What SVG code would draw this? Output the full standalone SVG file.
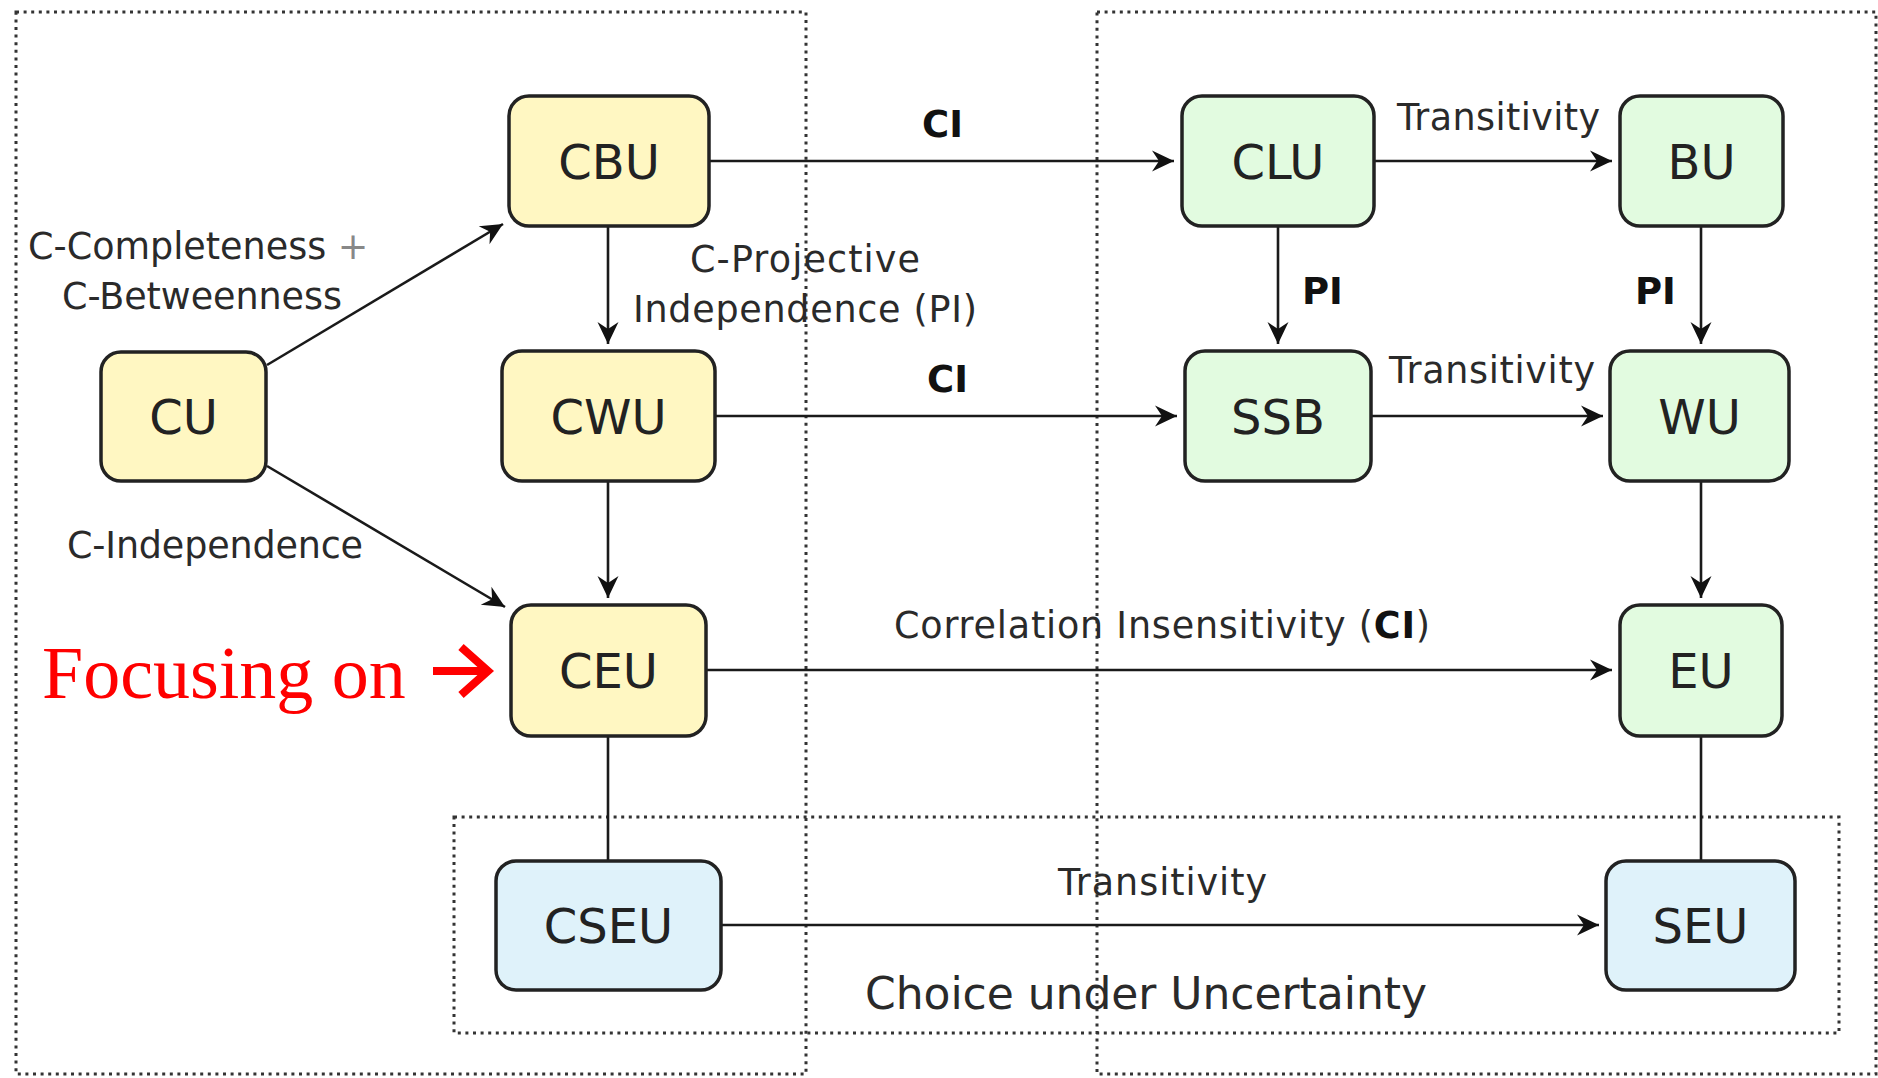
<svg xmlns="http://www.w3.org/2000/svg" width="1878" height="1078" viewBox="0 0 1878 1078">
<defs>
<style>
.box{fill:none;stroke:#333;stroke-width:3;stroke-dasharray:3 4.6}
.y{fill:#fff7c2}.g{fill:#e2fbe0}.b{fill:#dff2fa}
.n rect{stroke:#222;stroke-width:3.5}
.n text{font-family:"DejaVu Sans",sans-serif;font-size:48px;fill:#222;text-anchor:middle}
.lab{font-family:"DejaVu Sans",sans-serif;font-size:36.5px;fill:#2a2a2a}
.bold{font-weight:bold;font-size:37px;fill:#111}
.e{stroke:#1a1a1a;stroke-width:2.6;fill:none}
.a{marker-end:url(#arr)}
</style>
<marker id="arr" markerUnits="userSpaceOnUse" markerWidth="28" markerHeight="26" viewBox="-24 -13 28 26" refX="0" refY="0" orient="auto">
<path d="M0,0 L-22,-10.5 L-15,0 L-22,10.5 Z" fill="#111"/>
</marker>
</defs>
<rect width="1878" height="1078" fill="#fff"/>
<g id="frames">
<rect class="box" x="16" y="12" width="790" height="1062"/>
<rect class="box" x="1097" y="12" width="779" height="1062"/>
<rect class="box" x="454" y="817" width="1385" height="216"/>
</g>
<g id="connectors">
<line class="e a" x1="709" y1="161" x2="1174" y2="161"/>
<line class="e a" x1="1374" y1="161" x2="1612" y2="161"/>
<line class="e a" x1="608" y1="226" x2="608" y2="344"/>
<line class="e a" x1="1278" y1="226" x2="1278" y2="344"/>
<line class="e a" x1="1701" y1="226" x2="1701" y2="344"/>
<line class="e a" x1="715" y1="416" x2="1177" y2="416"/>
<line class="e a" x1="1371" y1="416" x2="1603" y2="416"/>
<line class="e a" x1="608" y1="481" x2="608" y2="598"/>
<line class="e a" x1="1701" y1="481" x2="1701" y2="598"/>
<line class="e a" x1="267" y1="365" x2="503" y2="224"/>
<line class="e a" x1="267" y1="466" x2="505" y2="607"/>
<line class="e a" x1="706" y1="670" x2="1612" y2="670"/>
<line class="e" x1="608" y1="736" x2="608" y2="861"/>
<line class="e" x1="1701" y1="736" x2="1701" y2="861" stroke="#444"/>
<line class="e a" x1="721" y1="925" x2="1599" y2="925"/>
</g>
<g id="labels" class="lab">
<text x="28" y="259">C-Completeness <tspan fill="#888">+</tspan></text>
<text x="62" y="309" textLength="280" lengthAdjust="spacing">C-Betweenness</text>
<text x="67" y="558" textLength="296" lengthAdjust="spacing">C-Independence</text>
<text x="690" y="272" textLength="230" lengthAdjust="spacing">C-Projective</text>
<text x="633" y="322" textLength="344" lengthAdjust="spacing">Independence (PI)</text>
<text class="bold" x="922" y="137">CI</text>
<text class="bold" x="927" y="392">CI</text>
<text class="bold" x="1302" y="304">PI</text>
<text class="bold" x="1635" y="304">PI</text>
<text x="1397" y="130" textLength="203" lengthAdjust="spacing">Transitivity</text>
<text x="1389" y="383" textLength="206" lengthAdjust="spacing">Transitivity</text>
<text x="894" y="638" textLength="536" lengthAdjust="spacing">Correlation Insensitivity (<tspan font-weight="bold" fill="#111">CI</tspan>)</text>
<text x="1058" y="895" textLength="209" lengthAdjust="spacing">Transitivity</text>
<text x="865" y="1009" font-size="44" textLength="562" lengthAdjust="spacing">Choice under Uncertainty</text>
</g>
<g id="focus">
<text x="42" y="698" font-family="'Liberation Serif','Times New Roman',serif" font-size="74" fill="#f00">Focusing on</text>
<path d="M433,671 H488 M461,647 L488,671 L461,695" fill="none" stroke="#f00" stroke-width="8" stroke-linejoin="miter"/>
</g>
<g id="CU" class="n"><rect class="y" x="101" y="352" width="165" height="129" rx="20"/><text x="183.5" y="434">CU</text></g>
<g id="CBU" class="n"><rect class="y" x="509" y="96" width="200" height="130" rx="20"/><text x="609" y="179">CBU</text></g>
<g id="CWU" class="n"><rect class="y" x="502" y="351" width="213" height="130" rx="20"/><text x="608.5" y="434">CWU</text></g>
<g id="CEU" class="n"><rect class="y" x="511" y="605" width="195" height="131" rx="20"/><text x="608.5" y="688">CEU</text></g>
<g id="CSEU" class="n"><rect class="b" x="496" y="861" width="225" height="129" rx="20"/><text x="608.5" y="943">CSEU</text></g>
<g id="CLU" class="n"><rect class="g" x="1182" y="96" width="192" height="130" rx="20"/><text x="1278" y="179">CLU</text></g>
<g id="BU" class="n"><rect class="g" x="1620" y="96" width="163" height="130" rx="20"/><text x="1701.5" y="179">BU</text></g>
<g id="SSB" class="n"><rect class="g" x="1185" y="351" width="186" height="130" rx="20"/><text x="1278" y="434">SSB</text></g>
<g id="WU" class="n"><rect class="g" x="1610" y="351" width="179" height="130" rx="20"/><text x="1699.5" y="434">WU</text></g>
<g id="EU" class="n"><rect class="g" x="1620" y="605" width="162" height="131" rx="20"/><text x="1701" y="688">EU</text></g>
<g id="SEU" class="n"><rect class="b" x="1606" y="861" width="189" height="129" rx="20"/><text x="1700.5" y="943">SEU</text></g>
</svg>
